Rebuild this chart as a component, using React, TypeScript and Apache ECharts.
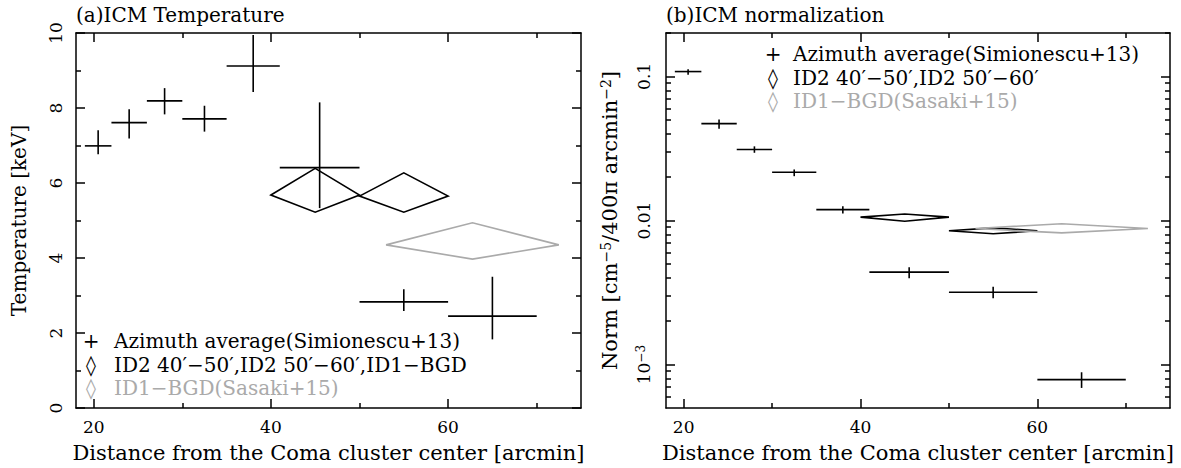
import React, { useEffect, useRef } from 'react';
import * as echarts from 'echarts';

// ---- data ----
const binCenter = [20.5, 24, 28, 32.5, 38, 45.5, 55, 65];
const binLo = [19, 22, 26, 30, 35, 41, 50, 60];
const binHi = [22, 26, 30, 35, 41, 50, 60, 70];

const tempAvg = [6.99, 7.61, 8.19, 7.71, 9.12, 6.41, 2.83, 2.45];
const tempAvgLo = [6.77, 7.19, 7.83, 7.37, 8.43, 5.33, 2.59, 1.83];
const tempAvgHi = [7.41, 7.97, 8.53, 8.06, 9.95, 8.15, 3.17, 3.5];

const normAvg = [0.108, 0.047, 0.0311, 0.0216, 0.0119, 0.00438, 0.00318, 0.000787];
const normAvgLo = [0.1027, 0.0434, 0.0295, 0.0203, 0.0112, 0.00397, 0.00289, 0.000689];
const normAvgHi = [0.112, 0.0502, 0.0327, 0.0226, 0.01256, 0.00474, 0.00347, 0.000885];

const id2Center = [45, 55];
const id2Lo = [40, 50];
const id2Hi = [50, 60];
const id2Temp = [5.68, 5.65];
const id2TempLo = [5.22, 5.22];
const id2TempHi = [6.39, 6.27];
const id2Norm = [0.01055, 0.00848];
const id2NormLo = [0.00988, 0.00809];
const id2NormHi = [0.0111, 0.00889];

const bgdCenter = [62.75];
const bgdLo = [53];
const bgdHi = [72.5];
const bgdTemp = [4.35];
const bgdTempLo = [3.97];
const bgdTempHi = [4.94];
const bgdNorm = [0.0088];
const bgdNormLo = [0.0082];
const bgdNormHi = [0.0095];

const xMajorTicks = [20, 40, 60];
const xMinorTicks = [30, 50, 70];
const tempMajorTicks = [0, 2, 4, 6, 8, 10];
const tempMinorTicks = [1, 3, 5, 7, 9];
const normMajorTicks = [0.1, 0.01, 0.001];
const normMinorTicks = [
  0.0006, 0.0007, 0.0008, 0.0009,
  0.002, 0.003, 0.004, 0.005, 0.006, 0.007, 0.008, 0.009,
  0.02, 0.03, 0.04, 0.05, 0.06, 0.07, 0.08, 0.09, 0.2,
];

const legendLeft = [
  'Azimuth average(Simionescu+13)',
  'ID2 40\u2032\u221250\u2032,ID2 50\u2032\u221260\u2032,ID1\u2212BGD',
  'ID1\u2212BGD(Sasaki+15)',
];
const legendRight = [
  'Azimuth average(Simionescu+13)',
  'ID2 40\u2032\u221250\u2032,ID2 50\u2032\u221260\u2032',
  'ID1\u2212BGD(Sasaki+15)',
];
const legendSymbols = ['+', '\u25CA', '\u25CA'];

const FONT = '"DejaVu Serif", "Liberation Serif", serif';
const BLACK = '#000';
const GRAY = '#aaaaaa';
const AX = { color: BLACK, width: 1.5 };
const X_MIN = 18;
const X_MAX = 75;

const lg = (v: number) => Math.log10(v);

function rows(c: number[], lo: number[], hi: number[], v: number[], vlo: number[], vhi: number[], f = (a: number) => a) {
  return c.map((_, i) => [c[i], lo[i], hi[i], f(v[i]), f(vlo[i]), f(vhi[i])]);
}

function pts(api: any) {
  const x = api.value(0), xl = api.value(1), xh = api.value(2);
  const y = api.value(3), yl = api.value(4), yh = api.value(5);
  return {
    l: api.coord([xl, y]), r: api.coord([xh, y]),
    b: api.coord([x, yl]), t: api.coord([x, yh]),
  };
}

function crossSeries(data: number[][], gi: number, color: string) {
  return {
    type: 'custom', xAxisIndex: gi * 4, yAxisIndex: gi * 4,
    encode: { x: [0, 1, 2], y: [3, 4, 5] },
    data,
    renderItem: (params: any, api: any) => {
      const p = pts(api);
      return {
        type: 'group',
        children: [
          { type: 'line', shape: { x1: p.l[0], y1: p.l[1], x2: p.r[0], y2: p.r[1] }, style: { stroke: color, lineWidth: 1.6 } },
          { type: 'line', shape: { x1: p.b[0], y1: p.b[1], x2: p.t[0], y2: p.t[1] }, style: { stroke: color, lineWidth: 1.6 } },
        ],
      };
    },
  };
}

function diamondSeries(data: number[][], gi: number, color: string) {
  return {
    type: 'custom', xAxisIndex: gi * 4, yAxisIndex: gi * 4,
    encode: { x: [0, 1, 2], y: [3, 4, 5] },
    data,
    renderItem: (params: any, api: any) => {
      const p = pts(api);
      return {
        type: 'polygon',
        shape: { points: [p.l, p.t, p.r, p.b] },
        style: { fill: 'none', stroke: color, lineWidth: 1.6 },
      };
    },
  };
}

const tickFont = { fontFamily: FONT, fontSize: 17, color: BLACK };

function xAxes(gi: number) {
  const base = { type: 'value', gridIndex: gi, min: X_MIN, max: X_MAX, splitLine: { show: false } };
  const major = { show: true, inside: true, length: 9, customValues: xMajorTicks, lineStyle: AX };
  const minor = { show: true, inside: true, length: 5, customValues: xMinorTicks, lineStyle: AX };
  return [
    {
      ...base, position: 'bottom',
      axisLine: { show: true, onZero: false, lineStyle: AX },
      axisTick: major,
      axisLabel: { show: true, customValues: xMajorTicks, margin: 10, ...tickFont },
      name: 'Distance from the Coma cluster center [arcmin]',
      nameLocation: 'middle', nameGap: 34,
      nameTextStyle: { fontFamily: FONT, fontSize: 21, color: BLACK },
    },
    { ...base, position: 'bottom', axisLine: { show: false, onZero: false }, axisTick: minor, axisLabel: { show: false } },
    { ...base, position: 'top', axisLine: { show: true, onZero: false, lineStyle: AX }, axisTick: major, axisLabel: { show: false } },
    { ...base, position: 'top', axisLine: { show: false, onZero: false }, axisTick: minor, axisLabel: { show: false } },
  ];
}

function yAxes(gi: number, min: number, max: number, majors: number[], minors: number[], label: any, name: any) {
  const base = { type: 'value', gridIndex: gi, min, max, splitLine: { show: false } };
  const major = { show: true, inside: true, length: 9, customValues: majors, lineStyle: AX };
  const minor = { show: true, inside: true, length: 5, customValues: minors, lineStyle: AX };
  return [
    {
      ...base, position: 'left',
      axisLine: { show: true, onZero: false, lineStyle: AX },
      axisTick: major,
      axisLabel: { show: true, customValues: majors, rotate: 90, ...tickFont, ...label },
      ...name,
    },
    { ...base, position: 'left', axisLine: { show: false, onZero: false }, axisTick: minor, axisLabel: { show: false } },
    { ...base, position: 'right', axisLine: { show: true, onZero: false, lineStyle: AX }, axisTick: major, axisLabel: { show: false } },
    { ...base, position: 'right', axisLine: { show: false, onZero: false }, axisTick: minor, axisLabel: { show: false } },
  ];
}

function legendGraphics(texts: string[], symX: number, textX: number, ys: number[]) {
  const out: any[] = [];
  texts.forEach((t, i) => {
    const color = i === 2 ? GRAY : BLACK;
    out.push({
      type: 'text', x: symX, y: ys[i],
      style: { text: legendSymbols[i], fill: color, fontFamily: FONT, fontSize: 20, align: 'center', verticalAlign: 'middle' },
    });
    out.push({
      type: 'text', x: textX, y: ys[i],
      style: { text: t, fill: color, fontFamily: FONT, fontSize: 20, align: 'left', verticalAlign: 'middle' },
    });
  });
  return out;
}

export default function App() {
  const ref = useRef<HTMLDivElement>(null);
  useEffect(() => {
    if (!ref.current) return;
    const chart = echarts.init(ref.current, null, { renderer: 'svg' });
    const normLabel = {
      margin: 14,
      formatter: (v: number) => {
        const r = Math.round(v);
        if (r === -1) return '0.1';
        if (r === -2) return '0.01';
        return '{b|10}{s|\u22123}';
      },
      rich: {
        b: { fontFamily: FONT, fontSize: 17, lineHeight: 17, verticalAlign: 'bottom', color: BLACK },
        s: { fontFamily: FONT, fontSize: 12, lineHeight: 12, verticalAlign: 'top', padding: [0, 0, 13, 0], color: BLACK },
      },
    };
    const titleStyle = { fontFamily: FONT, fontSize: 20, fontWeight: 'normal', color: BLACK };
    const option: any = {
      animation: false,
      backgroundColor: '#fff',
      title: [
        { text: '(a)ICM Temperature', left: 76, top: 5, padding: 0, textStyle: titleStyle },
        { text: '(b)ICM normalization', left: 666, top: 5, padding: 0, textStyle: titleStyle },
      ],
      grid: [
        { left: 76, top: 33, width: 505, height: 375, containLabel: false },
        { left: 666, top: 33, width: 504, height: 375, containLabel: false },
      ],
      xAxis: [...xAxes(0), ...xAxes(1)],
      yAxis: [
        ...yAxes(0, 0, 10, tempMajorTicks, tempMinorTicks, { margin: 12 }, {
          name: 'Temperature [keV]', nameLocation: 'middle', nameGap: 47,
          nameTextStyle: { fontFamily: FONT, fontSize: 20, color: BLACK },
        }),
        ...yAxes(1, lg(0.0005), lg(0.2), normMajorTicks.map(lg), normMinorTicks.map(lg), normLabel, {
          name: '{n|Norm [cm}{s|\u22125}{n|/400\u03C0 arcmin}{s|\u22122}{n|]}', nameLocation: 'middle', nameGap: 46,
          nameTextStyle: {
            fontFamily: FONT, fontSize: 21, color: BLACK,
            rich: {
              n: { fontFamily: FONT, fontSize: 21, lineHeight: 21, verticalAlign: 'bottom', color: BLACK },
              s: { fontFamily: FONT, fontSize: 14, lineHeight: 14, verticalAlign: 'top', padding: [0, 0, 9, 0], color: BLACK },
            },
          },
        }),
      ],
      series: [
        crossSeries(rows(binCenter, binLo, binHi, tempAvg, tempAvgLo, tempAvgHi), 0, BLACK),
        diamondSeries(rows(id2Center, id2Lo, id2Hi, id2Temp, id2TempLo, id2TempHi), 0, BLACK),
        diamondSeries(rows(bgdCenter, bgdLo, bgdHi, bgdTemp, bgdTempLo, bgdTempHi), 0, GRAY),
        crossSeries(rows(binCenter, binLo, binHi, normAvg, normAvgLo, normAvgHi, lg), 1, BLACK),
        diamondSeries(rows(id2Center, id2Lo, id2Hi, id2Norm, id2NormLo, id2NormHi, lg), 1, BLACK),
        diamondSeries(rows(bgdCenter, bgdLo, bgdHi, bgdNorm, bgdNormLo, bgdNormHi, lg), 1, GRAY),
      ],
      graphic: [
        ...legendGraphics(legendLeft, 91, 114, [341, 364.5, 388]),
        ...legendGraphics(legendRight, 773, 793, [54, 77.5, 101]),
      ],
    };
    chart.setOption(option);
    return () => chart.dispose();
  }, []);
  return <div ref={ref} style={{ position: 'absolute', left: 0, top: 0, width: 1181, height: 468, background: '#fff' }} />;
}
